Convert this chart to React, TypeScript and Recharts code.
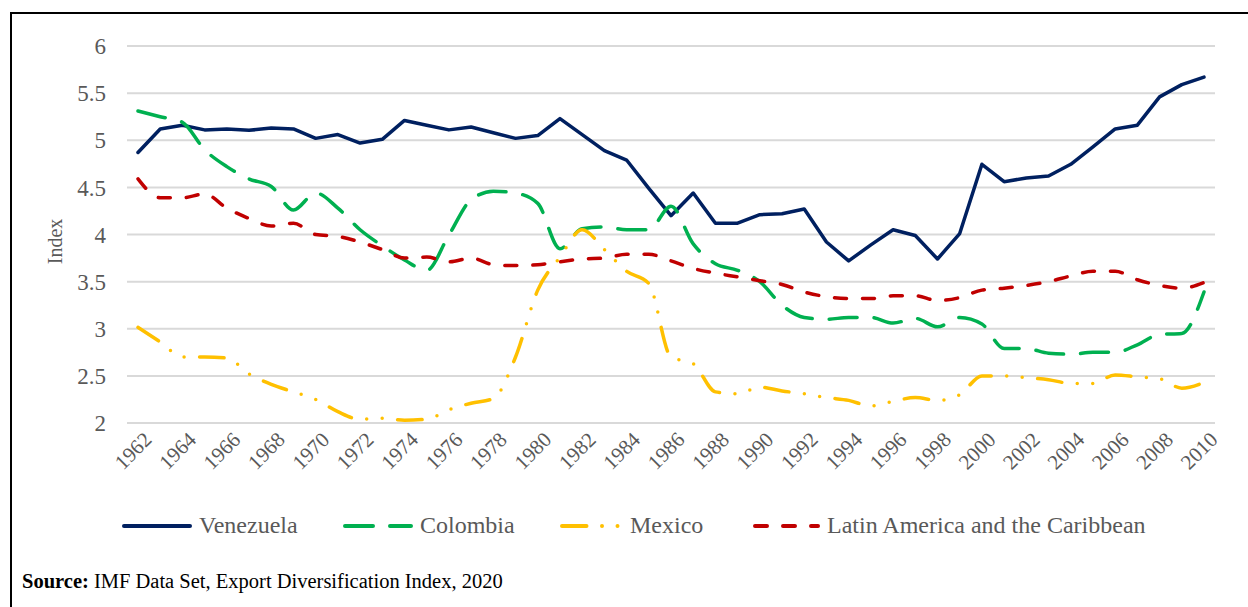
import React from "react";
import { LineChart, Line, XAxis, YAxis, CartesianGrid, Label } from "recharts";

const YEARS = [
  "1962", "1963", "1964", "1965", "1966", "1967", "1968", "1969", "1970", "1971",
  "1972", "1973", "1974", "1975", "1976", "1977", "1978", "1979", "1980", "1981",
  "1982", "1983", "1984", "1985", "1986", "1987", "1988", "1989", "1990", "1991",
  "1992", "1993", "1994", "1995", "1996", "1997", "1998", "1999", "2000", "2001",
  "2002", "2003", "2004", "2005", "2006", "2007", "2008", "2009", "2010",
];

const VENEZUELA = [
  4.87, 5.12, 5.16, 5.11, 5.12, 5.105, 5.13, 5.12, 5.02, 5.06, 4.97, 5.01, 5.21, 5.16, 5.11, 5.14,
  5.08, 5.02, 5.05, 5.23, 5.06, 4.89, 4.79, 4.49, 4.2, 4.44, 4.12, 4.12, 4.21, 4.22, 4.27, 3.92,
  3.72, 3.89, 4.05, 3.99, 3.74, 4.01, 4.745, 4.56, 4.6, 4.62, 4.745, 4.93, 5.12, 5.16, 5.46, 5.59, 5.67,
];

const COLOMBIA = [
  5.31, 5.25, 5.19, 4.9, 4.72, 4.59, 4.51, 4.26, 4.44, 4.28, 4.05, 3.88, 3.73, 3.62, 3.995, 4.37,
  4.46, 4.44, 4.33, 3.85, 4.06, 4.08, 4.05, 4.05, 4.3, 3.9, 3.69, 3.62, 3.5, 3.25, 3.12, 3.1,
  3.12, 3.12, 3.06, 3.11, 3.02, 3.12, 3.05, 2.79, 2.79, 2.74, 2.73, 2.75, 2.75, 2.83, 2.94, 2.95, 3.39,
];

const MEXICO = [
  3.015, 2.86, 2.7, 2.7, 2.69, 2.52, 2.41, 2.33, 2.25, 2.12, 2.04, 2.05, 2.03, 2.04, 2.14, 2.21,
  2.26, 2.7, 3.41, 3.76, 4.05, 3.84, 3.61, 3.48, 2.7, 2.63, 2.33, 2.31, 2.38, 2.34, 2.31, 2.27,
  2.24, 2.18, 2.23, 2.27, 2.24, 2.3, 2.5, 2.5, 2.48, 2.46, 2.42, 2.42, 2.51, 2.49, 2.47, 2.37, 2.43,
];

const LATAM = [
  4.59, 4.39, 4.39, 4.43, 4.28, 4.17, 4.09, 4.12, 4.0, 3.98, 3.92, 3.84, 3.75, 3.76, 3.71, 3.75,
  3.68, 3.67, 3.68, 3.71, 3.74, 3.75, 3.79, 3.79, 3.72, 3.64, 3.59, 3.55, 3.51, 3.47, 3.39, 3.34,
  3.32, 3.32, 3.35, 3.35, 3.3, 3.33, 3.41, 3.43, 3.46, 3.5, 3.56, 3.61, 3.61, 3.52, 3.46, 3.43, 3.49,
];

const Y_TICKS = [2, 2.5, 3, 3.5, 4, 4.5, 5, 5.5, 6];

const SERIES = [
  { key: "venezuela", name: "Venezuela", color: "#002060", dash: undefined, curve: "linear" as const },
  { key: "colombia", name: "Colombia", color: "#00B050", dash: "28 17", curve: "monotone" as const },
  { key: "mexico", name: "Mexico", color: "#FFC000", dash: "24.5 15.5 0 15.5 0 15.5", curve: "monotone" as const },
  { key: "latam", name: "Latin America and the Caribbean", color: "#C00000", dash: "12 16", curve: "monotone" as const },
];

// legend slots: left edge of sample line and its length
const LEGEND_SLOTS = [
  { left: 122, len: 70 },
  { left: 343, len: 70 },
  { left: 560, len: 63 },
  { left: 753, len: 67 },
];

const data = YEARS.map((year, i) => ({
  year,
  venezuela: VENEZUELA[i],
  colombia: COLOMBIA[i],
  mexico: MEXICO[i],
  latam: LATAM[i],
}));

const FONT = '"Liberation Serif", "DejaVu Serif", serif';
const GREY_TEXT = "#595959";

function YearTick(props: any) {
  const { x, y, payload } = props;
  const px = x + 10;
  const py = y + 5;
  return (
    <text
      x={px}
      y={py}
      transform={`rotate(-45 ${px} ${py})`}
      textAnchor="end"
      dominantBaseline="central"
      fontSize={21}
      fontFamily={FONT}
      fill={GREY_TEXT}
    >
      {payload.value}
    </text>
  );
}

function IndexLabel(props: any) {
  const { viewBox } = props;
  const cx = 55;
  const cy = viewBox.y + viewBox.height / 2 + 7;
  return (
    <text
      x={cx}
      y={cy}
      transform={`rotate(-90 ${cx} ${cy})`}
      textAnchor="middle"
      dominantBaseline="central"
      fontSize={20}
      fontFamily={FONT}
      fill={GREY_TEXT}
    >
      Index
    </text>
  );
}

function LegendRow() {
  return (
    <>
      {SERIES.map((s, i) => {
        const slot = LEGEND_SLOTS[i];
        return (
          <div
            key={s.key}
            style={{
              position: "absolute",
              left: slot.left,
              top: 512,
              display: "flex",
              alignItems: "center",
              fontFamily: FONT,
              fontSize: 24,
              color: GREY_TEXT,
              whiteSpace: "nowrap",
            }}
          >
            <svg width={slot.len} height={10} style={{ marginRight: 7 }}>
              <line
                x1={2}
                y1={5}
                x2={slot.len - 2}
                y2={5}
                stroke={s.color}
                strokeWidth={4}
                strokeDasharray={s.dash}
                strokeLinecap="round"
              />
            </svg>
            <span>{s.name}</span>
          </div>
        );
      })}
    </>
  );
}

export default function App() {
  return (
    <div
      style={{
        position: "absolute",
        left: 0,
        top: 0,
        width: 1248,
        height: 607,
        background: "#fff",
        overflow: "hidden",
      }}
    >
      <div
        style={{
          position: "absolute",
          left: 10,
          top: 12,
          width: 1300,
          height: 700,
          borderTop: "2.5px solid #000",
          borderLeft: "2.5px solid #000",
        }}
      />
      <div style={{ position: "absolute", left: 0, top: 0 }}>
        <LineChart
          width={1248}
          height={500}
          data={data}
          margin={{ top: 46, right: 33, left: 0, bottom: 17 }}
        >
          <CartesianGrid vertical={false} stroke="#d9d9d9" strokeWidth={2} />
          <XAxis
            dataKey="year"
            interval={1}
            padding={{ left: 11, right: 11 }}
            axisLine={{ stroke: "#d9d9d9", strokeWidth: 2 }}
            tickLine={false}
            tick={<YearTick />}
            height={60}
          />
          <YAxis
            domain={[2, 6]}
            ticks={Y_TICKS}
            width={127}
            axisLine={false}
            tickLine={false}
            tickSize={0}
            tickMargin={21}
            tick={{ fontSize: 23, fill: GREY_TEXT, fontFamily: FONT }}
          >
            <Label content={<IndexLabel />} />
          </YAxis>
          {SERIES.map((s) => (
            <Line
              key={s.key}
              type={s.curve}
              dataKey={s.key}
              name={s.name}
              stroke={s.color}
              strokeWidth={3.5}
              strokeDasharray={s.dash}
              strokeLinecap="round"
              strokeLinejoin="round"
              dot={false}
              activeDot={false}
              isAnimationActive={false}
            />
          ))}
        </LineChart>
      </div>
      <LegendRow />
      <div
        style={{
          position: "absolute",
          left: 22,
          top: 570,
          fontFamily: FONT,
          fontSize: 20.5,
          color: "#000",
          whiteSpace: "nowrap",
        }}
      >
        <b>Source:</b> IMF Data Set, Export Diversification Index, 2020
      </div>
    </div>
  );
}
